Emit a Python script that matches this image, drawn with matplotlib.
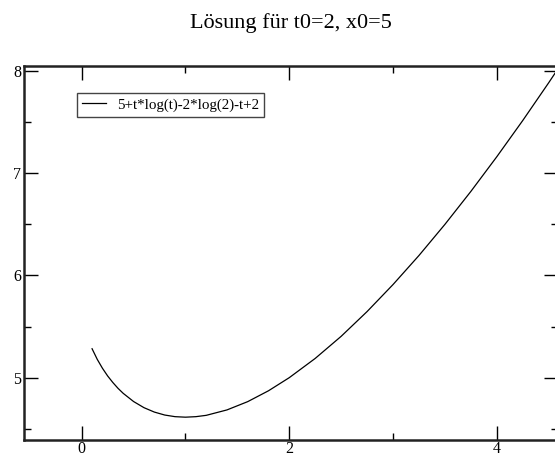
import matplotlib.pyplot as plt
from matplotlib.ticker import MultipleLocator

# values
t = [0.1, 0.15, 0.2, 0.25, 0.3, 0.35, 0.4, 0.5, 0.6, 0.7, 0.8, 0.9, 1.0,
     1.1, 1.2, 1.4, 1.6, 1.8, 2.0, 2.25, 2.5, 2.75, 3.0, 3.25, 3.5, 3.75,
     4.0, 4.25, 4.5, 4.6]
x = [5.283, 5.179, 5.092, 5.017, 4.953, 4.896, 4.847, 4.767, 4.707, 4.664,
     4.635, 4.619, 4.614, 4.619, 4.632, 4.685, 4.766, 4.872, 5.000, 5.188,
     5.404, 5.646, 5.910, 6.194, 6.498, 6.820, 7.159, 7.513, 7.882, 8.034]
label = '5+t*log(t)-2*log(2)-t+2'
title = 'Lösung für t0=2, x0=5'

plt.rcParams['font.family'] = ['Liberation Serif', 'DejaVu Serif']

fig = plt.figure(figsize=(5.55, 4.55), dpi=100)
ax = fig.add_axes([24 / 555, 15 / 455, 534 / 555, 374.5 / 455])

ax.plot(t, x, color='black', lw=0.9, label=label)

ax.set_xlim(-0.556, 4.59)
ax.set_ylim(4.391, 8.051)

ax.xaxis.set_major_locator(MultipleLocator(2))
ax.xaxis.set_minor_locator(MultipleLocator(1))
ax.yaxis.set_major_locator(MultipleLocator(1))
ax.yaxis.set_minor_locator(MultipleLocator(0.5))
ax.tick_params(which='both', direction='in', top=True, right=True,
               width=1, color='black', labelsize=11.5, pad=2)
ax.tick_params(axis='x', which='both', pad=1)
ax.tick_params(which='major', length=10)
ax.tick_params(which='minor', length=5)
for s in ax.spines.values():
    s.set_linewidth(1.8)
    s.set_color('#222222')

ax.set_title(title, fontsize=16, pad=27)

leg = ax.legend(loc='upper left', bbox_to_anchor=(77 / 555, 1 - 92.7 / 455),
                bbox_transform=fig.transFigure, borderaxespad=0,
                fancybox=False, fontsize=10.8, handlelength=1.6,
                handletextpad=0.7, borderpad=0.35, framealpha=1)
leg.get_frame().set_edgecolor('#444444')
leg.get_frame().set_linewidth(1.0)

plt.savefig('out.png', dpi=100)
plt.close()
